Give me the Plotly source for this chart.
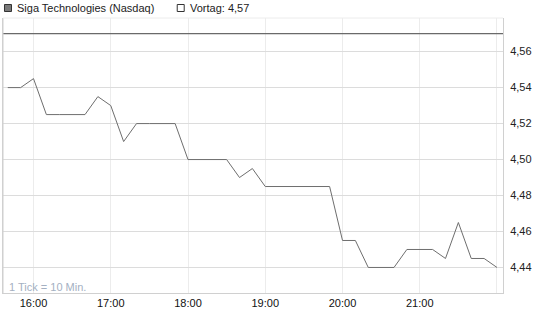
import plotly.graph_objects as go
import pandas as pd

# ---- data ----
times = pd.date_range("2024-01-02 15:40", "2024-01-02 22:00", freq="10min")
prices = [4.54, 4.54, 4.545, 4.525, 4.525, 4.525, 4.525, 4.535, 4.53, 4.51,
          4.52, 4.52, 4.52, 4.52, 4.50, 4.50, 4.50, 4.50, 4.49, 4.495,
          4.485, 4.485, 4.485, 4.485, 4.485, 4.485,
          4.455, 4.455, 4.44, 4.44, 4.44, 4.45, 4.45, 4.45, 4.445, 4.465,
          4.445, 4.445, 4.44]
prev_close = 4.57
series_name = "Siga Technologies (Nasdaq)"
prev_label = "Vortag: 4,57"
y_ticks = [4.44, 4.46, 4.48, 4.50, 4.52, 4.54, 4.56]
x_tick_times = pd.date_range("2024-01-02 16:00", "2024-01-02 22:00", freq="60min")
x_tick_labels = ["16:00", "17:00", "18:00", "19:00", "20:00", "21:00", ""]

W, H = 545, 327
L, R, T, B = 2.5, 41.7, 18, 33.7
pw, ph = W - L - R, H - T - B

def px(x):
    return (x - L) / pw

def py(y):
    return (H - B - y) / ph

FONT = "Liberation Sans, Arial, sans-serif"

fig = go.Figure()
fig.add_trace(go.Scatter(x=times, y=prices, mode="lines",
                         line=dict(color="#6e6e6e", width=1), showlegend=False,
                         hoverinfo="skip"))
fig.add_trace(go.Scatter(x=[pd.Timestamp("2024-01-02 15:30"), pd.Timestamp("2024-01-02 22:10")],
                         y=[prev_close, prev_close], mode="lines",
                         line=dict(color="#6a6a6a", width=1.2), showlegend=False,
                         hoverinfo="skip"))

shapes = [
    dict(type="rect", xref="paper", yref="paper", x0=px(4), x1=px(11), y0=py(11.5), y1=py(4.5),
         fillcolor="#7a7a7a", line=dict(color="#333333", width=1)),
    dict(type="rect", xref="paper", yref="paper", x0=px(177), x1=px(184), y0=py(11.5), y1=py(4.5),
         fillcolor="white", line=dict(color="#333333", width=1)),
    dict(type="line", xref="paper", yref="paper", x0=0, x1=0, y0=0, y1=1,
         line=dict(color="#d0d0d0", width=1)),
    dict(type="line", xref="paper", yref="paper", x0=0, x1=1, y0=1, y1=1,
         line=dict(color="#ececec", width=1)),
]
annotations = [
    dict(text=series_name, xref="paper", yref="paper", x=px(15), y=py(8), xanchor="left",
         yanchor="middle", showarrow=False, font=dict(family=FONT, size=11, color="#222222")),
    dict(text=prev_label, xref="paper", yref="paper", x=px(188), y=py(8), xanchor="left",
         yanchor="middle", showarrow=False, font=dict(family=FONT, size=11, color="#222222")),
    dict(text="1 Tick = 10 Min.", xref="paper", yref="paper", x=px(7), y=py(287.5), xanchor="left",
         yanchor="middle", showarrow=False, font=dict(family=FONT, size=11, color="#a4b0c2")),
]

fig.update_layout(
    width=W, height=H,
    margin=dict(l=L, r=R, t=T, b=B, pad=0),
    paper_bgcolor="white", plot_bgcolor="white",
    separators=",.",
    shapes=shapes, annotations=annotations,
    font=dict(family=FONT, size=11, color="#222222"),
    xaxis=dict(
        type="date",
        range=[pd.Timestamp("2024-01-02 15:36:18"), pd.Timestamp("2024-01-02 22:04:40")],
        tickvals=list(x_tick_times), ticktext=x_tick_labels,
        showgrid=True, gridcolor="#ececec", gridwidth=1,
        showline=True, linecolor="#d0d0d0", linewidth=1, mirror=False,
        ticks="", tickfont=dict(family=FONT, size=11, color="#111111"),
        zeroline=False, fixedrange=True,
    ),
    yaxis=dict(
        side="right",
        range=[4.4258, 4.5787],
        tickvals=y_ticks, tickformat=".2f",
        showgrid=True, gridcolor="#dcdcdc", gridwidth=1,
        showline=True, linecolor="#d0d0d0", linewidth=1, mirror=True,
        ticks="outside", ticklen=4, tickcolor="white",
        tickfont=dict(family=FONT, size=11, color="#222222"),
        zeroline=False, fixedrange=True,
    ),
)

fig.write_html("out.html")
